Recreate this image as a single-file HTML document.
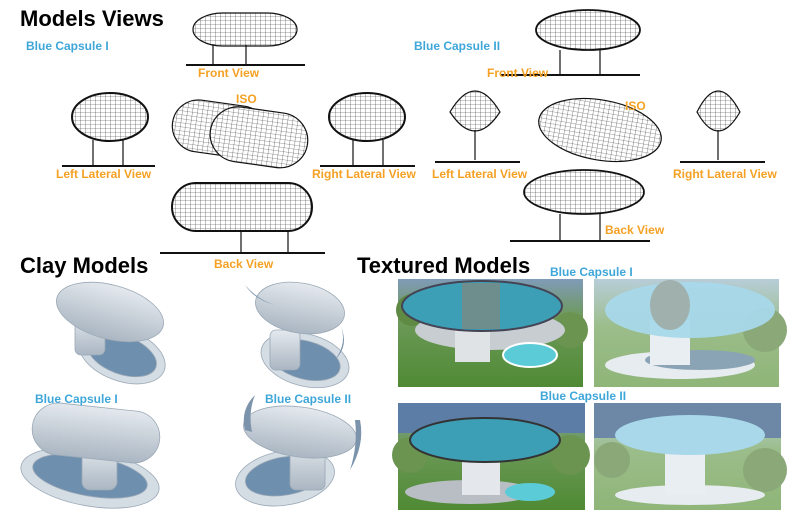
<!DOCTYPE html>
<html><head><meta charset="utf-8"><style>
body{margin:0;background:#fff}
svg{display:block}
.t{font-family:"Liberation Sans",sans-serif;font-weight:bold}
.o{fill:#f5a124;font-size:12px}
.b{fill:#3ea6d9;font-size:12px}
.h{fill:#000;font-size:22px}
</style></head><body>
<svg width="800" height="515" viewBox="0 0 800 515" xmlns="http://www.w3.org/2000/svg">
<defs>
<pattern id="g" width="5" height="4" patternUnits="userSpaceOnUse"><rect width="5" height="4" fill="#fff"/><path d="M0 0H5M0 0V4" stroke="#333" stroke-width="0.6"/></pattern>
<linearGradient id="clay" x1="0" y1="0" x2="0" y2="1"><stop offset="0" stop-color="#e4e9ee"/><stop offset="1" stop-color="#aab6c2"/></linearGradient>
<linearGradient id="sky" x1="0" y1="0" x2="0" y2="1"><stop offset="0" stop-color="#7f9bb8"/><stop offset="0.35" stop-color="#6e9a5a"/><stop offset="1" stop-color="#4f8a34"/></linearGradient>
<linearGradient id="sky2" x1="0" y1="0" x2="0" y2="1"><stop offset="0" stop-color="#b8cdd8"/><stop offset="0.45" stop-color="#9bbd8a"/><stop offset="1" stop-color="#8fb578"/></linearGradient>
</defs>
<rect width="800" height="515" fill="#fff"/>
<text class="t h" x="20" y="26">Models Views</text>
<text class="t b" x="26" y="50">Blue Capsule I</text>
<text class="t b" x="414" y="50">Blue Capsule II</text>
<g stroke="#111" stroke-width="1.2">
<rect x="193" y="13" width="104" height="33" rx="30" fill="url(#g)"/>
<line x1="213" y1="45" x2="213" y2="64"/><line x1="246" y1="45" x2="246" y2="64"/>
<line x1="186" y1="65" x2="305" y2="65" stroke-width="2"/>
<ellipse cx="110" cy="117" rx="38" ry="24" fill="url(#g)" stroke-width="2"/>
<line x1="93" y1="140" x2="93" y2="165"/><line x1="123" y1="140" x2="123" y2="165"/>
<line x1="62" y1="166" x2="155" y2="166" stroke-width="2"/>
<ellipse cx="367" cy="117" rx="38" ry="24" fill="url(#g)" stroke-width="2"/>
<line x1="353" y1="140" x2="353" y2="165"/><line x1="383" y1="140" x2="383" y2="165"/>
<line x1="320" y1="166" x2="415" y2="166" stroke-width="2"/>
<rect x="172" y="103" width="95" height="52" rx="26" fill="url(#g)" transform="rotate(8 220 130)"/>
<rect x="210" y="110" width="98" height="55" rx="28" fill="url(#g)" transform="rotate(8 260 137)"/>
<rect x="172" y="183" width="140" height="48" rx="24" fill="url(#g)" stroke-width="2"/>
<line x1="241" y1="230" x2="241" y2="252"/><line x1="288" y1="230" x2="288" y2="252"/>
<line x1="160" y1="253" x2="325" y2="253" stroke-width="2"/>
<ellipse cx="588" cy="30" rx="52" ry="20" fill="url(#g)" stroke-width="1.8"/>
<line x1="560" y1="50" x2="560" y2="74"/><line x1="600" y1="50" x2="600" y2="74"/>
<line x1="500" y1="75" x2="640" y2="75" stroke-width="2"/>
<path d="M450 112 Q475 70 500 112 Q475 150 450 112Z" fill="url(#g)"/>
<line x1="475" y1="130" x2="475" y2="160"/><line x1="435" y1="162" x2="520" y2="162" stroke-width="2"/>
<path d="M697 112 Q718 70 740 112 Q718 150 697 112Z" fill="url(#g)"/>
<line x1="718" y1="130" x2="718" y2="160"/><line x1="680" y1="162" x2="765" y2="162" stroke-width="2"/>
<ellipse cx="600" cy="130" rx="62" ry="30" fill="url(#g)" transform="rotate(10 600 130)"/>
<ellipse cx="584" cy="192" rx="60" ry="22" fill="url(#g)" stroke-width="1.8"/>
<line x1="560" y1="214" x2="560" y2="240"/><line x1="600" y1="214" x2="600" y2="240"/>
<line x1="510" y1="241" x2="650" y2="241" stroke-width="2"/>
</g>
<text class="t o" x="198" y="77">Front View</text>
<text class="t o" x="236" y="103">ISO</text>
<text class="t o" x="56" y="178">Left Lateral View</text>
<text class="t o" x="312" y="178">Right Lateral View</text>
<text class="t o" x="214" y="268">Back View</text>
<text class="t o" x="487" y="77">Front View</text>
<text class="t o" x="625" y="110">ISO</text>
<text class="t o" x="432" y="178">Left Lateral View</text>
<text class="t o" x="673" y="178">Right Lateral View</text>
<text class="t o" x="605" y="234">Back View</text>
<text class="t h" x="20" y="273">Clay Models</text>
<text class="t h" x="357" y="273">Textured Models</text>
<text class="t b" x="550" y="276">Blue Capsule I</text>
<text class="t b" x="540" y="400">Blue Capsule II</text>
<!-- clay -->
<g stroke="#9aa8b6" stroke-width="0.8">
<ellipse cx="122" cy="355" rx="45" ry="26" fill="#d4dce4" transform="rotate(20 122 355)"/>
<ellipse cx="122" cy="355" rx="36" ry="19" fill="#6f8fae" transform="rotate(20 122 355)"/>
<rect x="75" y="315" width="30" height="40" rx="6" fill="url(#clay)"/>
<ellipse cx="110" cy="312" rx="55" ry="27" fill="url(#clay)" transform="rotate(15 110 312)"/>
<ellipse cx="305" cy="360" rx="45" ry="26" fill="#d4dce4" transform="rotate(15 305 360)"/>
<ellipse cx="305" cy="360" rx="36" ry="19" fill="#6f8fae" transform="rotate(15 305 360)"/>
<rect x="270" y="330" width="30" height="40" rx="6" fill="url(#clay)"/>
<ellipse cx="300" cy="308" rx="45" ry="25" fill="url(#clay)" transform="rotate(10 300 308)"/>
<ellipse cx="90" cy="478" rx="70" ry="28" fill="#d4dce4" transform="rotate(10 90 478)"/>
<ellipse cx="90" cy="476" rx="58" ry="20" fill="#6f8fae" transform="rotate(10 90 476)"/>
<rect x="82" y="445" width="35" height="45" rx="8" fill="url(#clay)"/>
<rect x="32" y="407" width="128" height="52" rx="26" fill="url(#clay)" transform="rotate(6 96 433)"/>
<ellipse cx="285" cy="478" rx="50" ry="27" fill="#d4dce4" transform="rotate(-10 285 478)"/>
<ellipse cx="285" cy="476" rx="40" ry="19" fill="#6f8fae" transform="rotate(-10 285 476)"/>
<rect x="290" y="440" width="35" height="50" rx="6" fill="url(#clay)"/>
<ellipse cx="300" cy="432" rx="57" ry="25" fill="url(#clay)" transform="rotate(8 300 432)"/>
</g>
<g fill="#7c94ab"><path d="M245 285 Q255 300 275 305 Q258 300 245 285Z"/><path d="M340 325 Q350 345 335 360 Q348 342 340 325Z"/>
<path d="M245 430 Q240 410 255 395 Q248 412 252 432Z"/><path d="M360 420 Q365 445 350 470 Q358 445 355 420Z"/></g>
<text class="t b" x="35" y="403">Blue Capsule I</text>
<text class="t b" x="265" y="403">Blue Capsule II</text>
<!-- textured -->
<rect x="398" y="279" width="185" height="108" fill="url(#sky)"/>
<circle cx="412" cy="310" r="16" fill="#5f8a44"/><circle cx="570" cy="330" r="18" fill="#6b9450"/>
<ellipse cx="490" cy="330" rx="75" ry="20" fill="#c8cdd2"/>
<rect x="455" y="320" width="35" height="42" fill="#dfe3e6"/>
<ellipse cx="482" cy="306" rx="80" ry="25" fill="#3c9fb6" stroke="#445" stroke-width="2"/>
<rect x="462" y="283" width="38" height="46" fill="#7b8a84" opacity="0.8"/>
<ellipse cx="530" cy="355" rx="27" ry="12" fill="#5ccbd8" stroke="#fff" stroke-width="2"/>
<rect x="594" y="279" width="185" height="108" fill="url(#sky2)"/>
<circle cx="765" cy="330" r="22" fill="#8aa878"/>
<ellipse cx="680" cy="365" rx="75" ry="14" fill="#e6ecef"/>
<ellipse cx="700" cy="360" rx="55" ry="10" fill="#8aa4b6"/>
<rect x="650" y="320" width="40" height="45" fill="#e8eef2"/>
<ellipse cx="690" cy="310" rx="85" ry="28" fill="#a8d8ea" opacity="0.95"/>
<ellipse cx="670" cy="305" rx="20" ry="25" fill="#9fb0ad"/>
<rect x="398" y="403" width="187" height="107" fill="url(#sky)"/>
<rect x="398" y="403" width="187" height="30" fill="#5c7ea6"/>
<circle cx="410" cy="455" r="18" fill="#6a9450"/><circle cx="570" cy="455" r="20" fill="#6a9450"/>
<ellipse cx="470" cy="492" rx="65" ry="12" fill="#b8bec4"/>
<rect x="462" y="450" width="38" height="45" fill="#e4e8ec"/>
<ellipse cx="485" cy="440" rx="75" ry="22" fill="#3c9fb6" stroke="#333" stroke-width="2"/>
<ellipse cx="530" cy="492" rx="25" ry="9" fill="#5ccbd8"/>
<rect x="594" y="403" width="187" height="107" fill="url(#sky2)"/>
<rect x="594" y="403" width="187" height="35" fill="#6c88a6"/>
<circle cx="612" cy="460" r="18" fill="#8aa878"/><circle cx="765" cy="470" r="22" fill="#8aa878"/>
<ellipse cx="690" cy="495" rx="75" ry="10" fill="#e6ecef"/>
<rect x="665" y="440" width="40" height="55" fill="#e8eef2"/>
<ellipse cx="690" cy="435" rx="75" ry="20" fill="#a8d8ea"/>
</svg>
</body></html>
